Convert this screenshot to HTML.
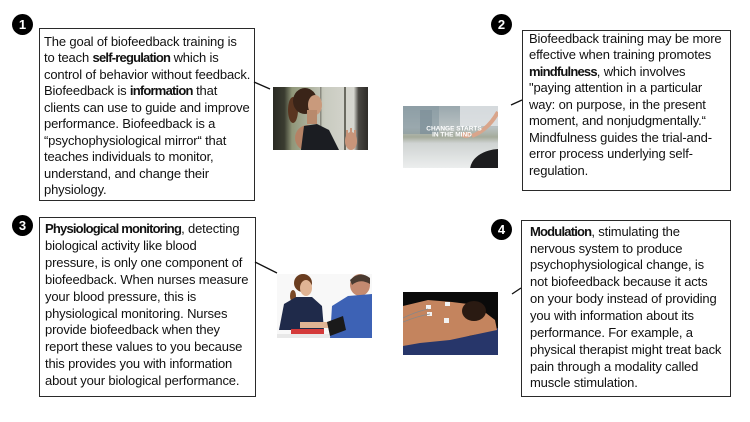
<!DOCTYPE html>
<html>
<head>
<meta charset="utf-8">
<style>
  html,body{margin:0;padding:0;background:#fff;}
  body{width:750px;height:422px;position:relative;overflow:hidden;font-family:"Liberation Sans",Arial,sans-serif;}
  svg{position:absolute;left:0;top:0;}
  .box{position:absolute;border:1.5px solid #2a2a2a;box-sizing:border-box;background:#fff;}
  .txt{position:absolute;font-size:13px;line-height:16.8px;color:#111;letter-spacing:-0.15px;white-space:nowrap;}
  .txt b{letter-spacing:-0.8px;}
  .num{position:absolute;width:21px;height:21px;border-radius:50%;background:#000;color:#fff;font-weight:bold;font-size:13px;line-height:21px;text-align:center;}
</style>
</head>
<body>

<div class="box" style="left:39px;top:28px;width:216px;height:173px;"></div>
<div class="box" style="left:522px;top:30px;width:209px;height:161px;"></div>
<div class="box" style="left:39px;top:217px;width:217px;height:180px;"></div>
<div class="box" style="left:521px;top:220px;width:210px;height:177px;"></div>

<svg width="750" height="422" viewBox="0 0 750 422">
  <defs>
    <linearGradient id="g1" x1="0" y1="0" x2="1" y2="0">
      <stop offset="0" stop-color="#2a2a24"/>
      <stop offset="0.12" stop-color="#3a3c30"/>
      <stop offset="0.2" stop-color="#8f9678"/>
      <stop offset="0.55" stop-color="#c9cbc0"/>
      <stop offset="0.85" stop-color="#d6d6cf"/>
      <stop offset="0.9" stop-color="#4a4843"/>
      <stop offset="1" stop-color="#2e2c29"/>
    </linearGradient>
    <linearGradient id="g2" x1="0" y1="0" x2="0" y2="1">
      <stop offset="0" stop-color="#9aa8ae"/>
      <stop offset="0.35" stop-color="#b9c1c2"/>
      <stop offset="0.5" stop-color="#a5ab9b"/>
      <stop offset="0.6" stop-color="#cfd3d2"/>
      <stop offset="1" stop-color="#eceeee"/>
    </linearGradient>
    <clipPath id="c1"><rect x="273" y="87" width="95" height="63"/></clipPath>
    <clipPath id="c2"><rect x="403" y="106" width="95" height="62"/></clipPath>
    <clipPath id="c3"><rect x="277" y="274" width="95" height="64"/></clipPath>
    <clipPath id="c4"><rect x="403" y="292" width="95" height="63"/></clipPath>
  </defs>

  <!-- connectors -->
  <line x1="254" y1="82" x2="270" y2="89" stroke="#111" stroke-width="1.3"/>
  <line x1="511" y1="105" x2="522" y2="100" stroke="#111" stroke-width="1.3"/>
  <line x1="255" y1="262" x2="277" y2="273" stroke="#111" stroke-width="1.3"/>
  <line x1="512" y1="294" x2="521" y2="288" stroke="#111" stroke-width="1.3"/>

  <!-- image 1 : woman meditating -->
  <g clip-path="url(#c1)">
  <rect x="273" y="87" width="95" height="63" fill="url(#g1)"/>
  <rect x="344" y="87" width="2" height="63" fill="#6a6a60"/>
  <rect x="320" y="87" width="1.5" height="63" fill="#8a8a80"/>
  <ellipse cx="293" cy="110" rx="5" ry="13" fill="#5a3520"/>
  <ellipse cx="305" cy="101" rx="12" ry="13" fill="#3a2418"/>
  <ellipse cx="315" cy="105" rx="7" ry="10" fill="#c99a7c"/>
  <rect x="307" y="110" width="10" height="14" fill="#b88a6c"/>
  <ellipse cx="308" cy="138" rx="13" ry="13" fill="#b58265"/>
  <path d="M301 150 L304 126 L317 124 L329 130 L339 150 Z" fill="#1b1d22"/>
  <ellipse cx="351" cy="141" rx="6" ry="9" fill="#c8957a"/>
  <rect x="346" y="130" width="2" height="8" fill="#c8957a"/>
  <rect x="350" y="128" width="2" height="9" fill="#c8957a"/>
  <rect x="354" y="130" width="2" height="8" fill="#c8957a"/>
  </g>

  <!-- image 2 : change starts in the mind -->
  <g clip-path="url(#c2)">
  <rect x="403" y="106" width="95" height="62" fill="url(#g2)"/>
  <rect x="403" y="106" width="36" height="28" fill="#8697a0" opacity="0.6"/>
  <rect x="420" y="110" width="12" height="24" fill="#7a8c96" opacity="0.6"/>
  <rect x="460" y="106" width="38" height="20" fill="#e4e6e8" opacity="0.8"/>
  <path d="M498 112 Q488 130 472 136" stroke="#d9a58b" stroke-width="4" fill="none"/>
  <ellipse cx="466" cy="135" rx="5" ry="3" fill="#d9a58b"/>
  <ellipse cx="500" cy="170" rx="30" ry="21" fill="#1d1d1f"/>
  </g>
  <text x="454" y="130.5" text-anchor="middle" font-family="Liberation Sans, Arial, sans-serif" font-weight="bold" font-size="6.5" fill="#fff">CHANGE STARTS</text>
  <text x="452" y="136.5" text-anchor="middle" font-family="Liberation Sans, Arial, sans-serif" font-weight="bold" font-size="6.5" fill="#fff">IN THE MIND</text>

  <!-- image 3 : nurse -->
  <g clip-path="url(#c3)">
  <rect x="277" y="274" width="95" height="64" fill="#f8f8f8"/>
  <ellipse cx="293" cy="296" rx="3" ry="6" fill="#7a4a28"/>
  <ellipse cx="303" cy="283" rx="9" ry="9" fill="#6a3d20"/>
  <ellipse cx="306" cy="288" rx="6" ry="8" fill="#e0b494"/>
  <path d="M279 330 L284 304 L296 297 L312 297 L322 306 L324 330 Z" fill="#1f2a4a"/>
  <rect x="300" y="322" width="30" height="6" fill="#e0b494"/>
  <rect x="291" y="329" width="33" height="6" fill="#d43a3a"/>
  <rect x="277" y="334" width="60" height="4" fill="#e8e8e8"/>
  <ellipse cx="360" cy="285" rx="10" ry="11" fill="#c48a70"/>
  <path d="M350 280 Q360 270 370 278 L370 284 Q360 278 352 285 Z" fill="#4a3a30"/>
  <path d="M330 338 L332 306 L348 296 L372 294 L372 338 Z" fill="#3d62b5"/>
  <path d="M327 322 L343 316 L346 330 L330 336 Z" fill="#1a1a1a"/>
  </g>

  <!-- image 4 : electrodes on back -->
  <g clip-path="url(#c4)">
  <rect x="403" y="292" width="95" height="63" fill="#0a0a0a"/>
  <path d="M403 340 L470 336 L498 328 L498 355 L403 355 Z" fill="#27366a"/>
  <path d="M403 306 L428 300 L452 302 L468 304 L482 310 L495 320 L497 330 L478 334 L450 340 L420 343 L403 346 Z" fill="#c4845e"/>
  <ellipse cx="474" cy="311" rx="12" ry="10" fill="#2a1a12"/>
  <rect x="426" y="305" width="5" height="4" fill="#f2f2f2"/>
  <rect x="445" y="302" width="5" height="4" fill="#f2f2f2"/>
  <rect x="427" y="312" width="5" height="4" fill="#f2f2f2"/>
  <rect x="444" y="318" width="5" height="5" fill="#f2f2f2"/>
  <path d="M403 318 Q415 312 428 309" stroke="#888" stroke-width="0.8" fill="none"/>
  <path d="M403 322 Q418 316 430 314" stroke="#888" stroke-width="0.8" fill="none"/>
  </g>
</svg>

<div class="num" style="left:12px;top:14px;">1</div>
<div class="num" style="left:491px;top:14px;">2</div>
<div class="num" style="left:12px;top:215px;">3</div>
<div class="num" style="left:491px;top:219px;">4</div>

<div class="txt" style="left:44px;top:33.8px;line-height:16.5px;">
<div>The goal of biofeedback training is</div>
<div>to teach <b>self-regulation</b> which is</div>
<div>control of behavior without feedback.</div>
<div>Biofeedback is <b>information</b> that</div>
<div>clients can use to guide and improve</div>
<div>performance. Biofeedback is a</div>
<div>“psychophysiological mirror“ that</div>
<div>teaches individuals to monitor,</div>
<div>understand, and change their</div>
<div>physiology.</div>
</div>

<div class="txt" style="left:529px;top:30.8px;line-height:16.5px;">
<div>Biofeedback training may be more</div>
<div>effective when training promotes</div>
<div><b>mindfulness</b>, which involves</div>
<div>"paying attention in a particular</div>
<div>way: on purpose, in the present</div>
<div>moment, and nonjudgmentally.“</div>
<div>Mindfulness guides the trial-and-</div>
<div>error process underlying self-</div>
<div>regulation.</div>
</div>

<div class="txt" style="left:45px;top:221.4px;line-height:16.85px;">
<div><b>Physiological monitoring</b>, detecting</div>
<div>biological activity like blood</div>
<div>pressure, is only one component of</div>
<div>biofeedback. When nurses measure</div>
<div>your blood pressure, this is</div>
<div>physiological monitoring. Nurses</div>
<div>provide biofeedback when they</div>
<div>report these values to you because</div>
<div>this provides you with information</div>
<div>about your biological performance.</div>
</div>

<div class="txt" style="left:530px;top:223.8px;line-height:16.85px;">
<div><b>Modulation</b>, stimulating the</div>
<div>nervous system to produce</div>
<div>psychophysiological change, is</div>
<div>not biofeedback because it acts</div>
<div>on your body instead of providing</div>
<div>you with information about its</div>
<div>performance. For example, a</div>
<div>physical therapist might treat back</div>
<div>pain through a modality called</div>
<div>muscle stimulation.</div>
</div>

</body>
</html>
